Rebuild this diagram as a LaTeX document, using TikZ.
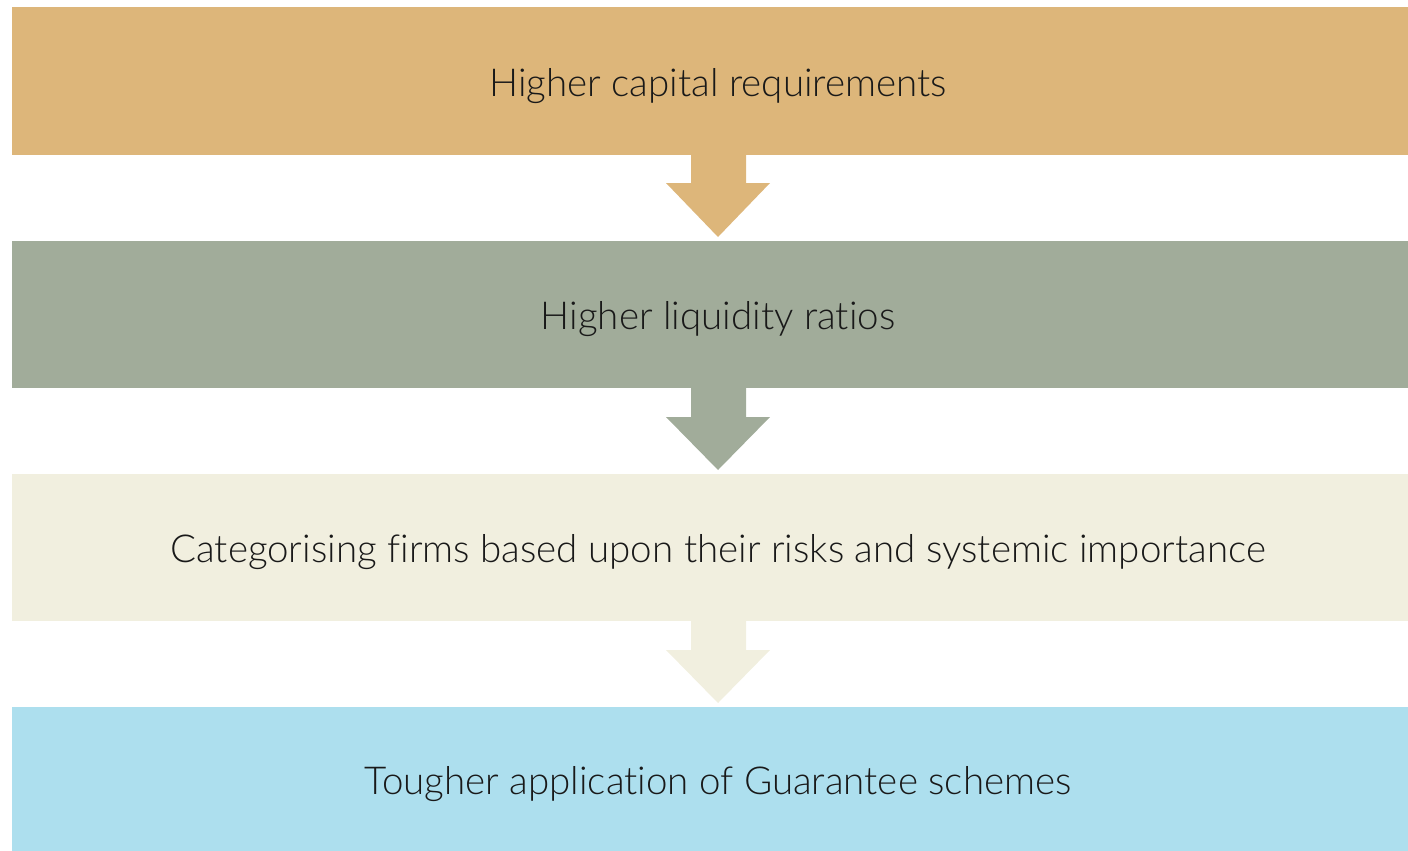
\documentclass[tikz,border=0pt]{standalone}
\usepackage{fontspec}
\setmainfont{Lato}[UprightFont=* Light, RawFeature=-liga]
\definecolor{cA}{RGB}{221,182,122}
\definecolor{cB}{RGB}{161,172,154}
\definecolor{cC}{RGB}{241,239,223}
\definecolor{cD}{RGB}{173,223,238}
\begin{document}
\begin{tikzpicture}[x=1pt,y=-1pt,
  lbl/.style={font=\fontsize{38.5}{46}\selectfont, text=black!90, inner sep=0pt, anchor=base}]
\useasboundingbox (0,0) rectangle (1408,851);
% boxes
\fill[cA] (12,7) rectangle (1408,155);
\fill[cB] (12,241) rectangle (1408,388);
\fill[cC] (12,474) rectangle (1408,621);
\fill[cD] (12,707) rectangle (1408,851);
% arrows
\fill[cA] (691,154) -- (691,183) -- (666,183) -- (718,237) -- (770,183) -- (746,183) -- (746,154) -- cycle;
\fill[cB] (691,387) -- (691,417) -- (666,417) -- (718,470) -- (770,417) -- (746,417) -- (746,387) -- cycle;
\fill[cC] (691,620) -- (691,650) -- (666,650) -- (718,703) -- (770,650) -- (746,650) -- (746,620) -- cycle;
% labels
\node[lbl] (t1) at (718,96) {Higher capital requirements};
\node[lbl] (t2) at (718,329) {Higher liquidity ratios};
\node[lbl] (t3) at (718,562) {Categorising firms based upon their risks and systemic importance};
\node[lbl] (t4) at (718,794) {Tougher application of Guarantee schemes};
\end{tikzpicture}
\end{document}
